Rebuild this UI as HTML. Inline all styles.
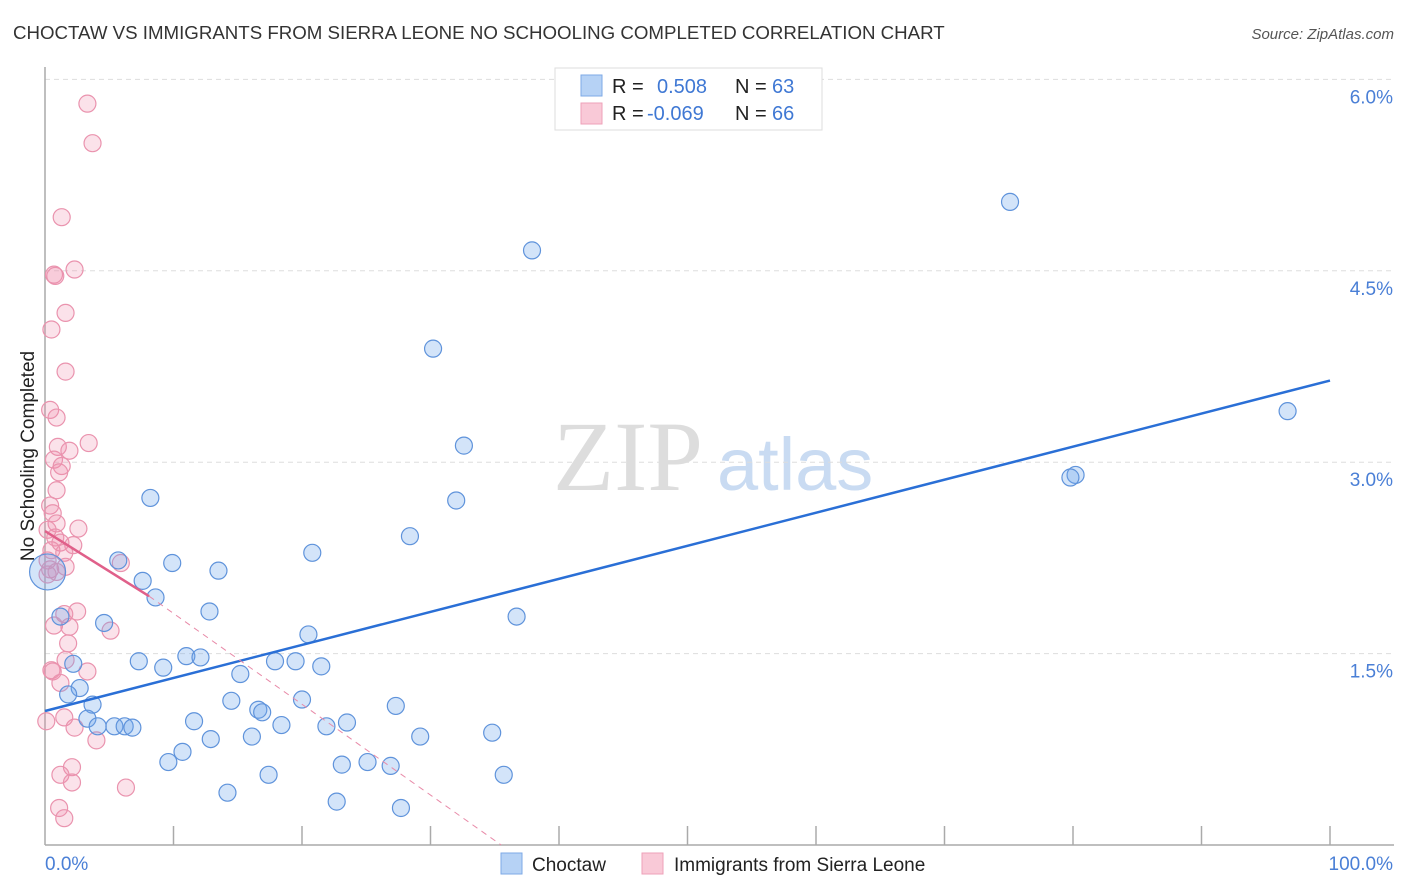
<!DOCTYPE html>
<html><head><meta charset="utf-8"><style>
body{margin:0;background:#fff;font-family:"Liberation Sans",sans-serif}
svg{display:block}
</style></head><body>
<svg id="chart" width="1406" height="892" xmlns="http://www.w3.org/2000/svg">
<text x="13" y="39" font-size="18.7" fill="#333">CHOCTAW VS IMMIGRANTS FROM SIERRA LEONE NO SCHOOLING COMPLETED CORRELATION CHART</text>
<text x="1394" y="39" font-size="15" fill="#555" font-style="italic" text-anchor="end">Source: ZipAtlas.com</text>
<g>
<text x="553" y="490" font-size="100" font-family="Liberation Serif,serif" fill="#ddd">ZIP</text>
<text x="717" y="490" font-size="74" fill="#c9dbf2">atlas</text>
</g>
<g id="grid"></g>
<g id="axes"></g>
<g id="pts"></g>
<g id="trends"></g>
<text transform="translate(34,456) rotate(-90)" font-size="19" fill="#222" text-anchor="middle">No Schooling Completed</text>
<text x="45" y="870" font-size="19" fill="#4a7fd6">0.0%</text>
<text x="1393" y="870" font-size="19" fill="#4a7fd6" text-anchor="end">100.0%</text>
<g>
<rect x="555" y="68" width="267" height="62" fill="#fff" stroke="#ddd"/>
<rect x="581" y="75" width="21" height="21" fill="#b6d2f5" stroke="#7ea9e6"/>
<rect x="581" y="103" width="21" height="21" fill="#f9c9d7" stroke="#eea1b8"/>
<text x="612" y="93" font-size="20" fill="#222">R =</text><text x="657" y="93" font-size="20" fill="#3f78d4">0.508</text>
<text x="735" y="93" font-size="20" fill="#222">N =</text><text x="772" y="93" font-size="20" fill="#3f78d4">63</text>
<text x="612" y="120" font-size="20" fill="#222">R =</text><text x="647" y="120" font-size="20" fill="#3f78d4">-0.069</text>
<text x="735" y="120" font-size="20" fill="#222">N =</text><text x="772" y="120" font-size="20" fill="#3f78d4">66</text>
</g>
<g><rect x="501" y="853" width="21" height="21" fill="#b6d2f5" stroke="#7ea9e6"/><text x="532" y="871" font-size="19" fill="#222">Choctaw</text></g>
<g><rect x="642" y="853" width="21" height="21" fill="#f9c9d7" stroke="#eea1b8"/><text x="674" y="871" font-size="19" fill="#222">Immigrants from Sierra Leone</text></g>
</svg>
<script>
const yTicks=[1.5,3.0,4.5,6.0];
const yTickLabels=["1.5%","3.0%","4.5%","6.0%"];
const blueX=[75.1,37.9,30.2,96.7,32.6,80.2,79.8,8.2,32.0,28.4,20.8,5.7,9.9,13.5,7.6,8.6,36.7,12.8,4.6,1.2,20.5,7.3,11.0,12.1,9.2,17.9,19.5,21.5,2.2,15.2,2.7,1.8,3.7,14.5,20.0,27.3,16.6,16.9,11.6,3.3,4.1,5.4,6.2,6.8,18.4,21.9,23.5,29.2,34.8,12.9,16.1,10.7,9.6,23.1,25.1,26.9,17.4,35.7,14.2,22.7,27.7];
const blueY=[5.04,4.66,3.89,3.40,3.13,2.90,2.88,2.72,2.70,2.42,2.29,2.23,2.21,2.15,2.07,1.94,1.79,1.83,1.74,1.79,1.65,1.44,1.48,1.47,1.39,1.44,1.44,1.40,1.42,1.34,1.23,1.18,1.10,1.13,1.14,1.09,1.06,1.04,0.97,0.99,0.93,0.93,0.93,0.92,0.94,0.93,0.96,0.85,0.88,0.83,0.85,0.73,0.65,0.63,0.65,0.62,0.55,0.55,0.41,0.34,0.29];
const pinkX=[3.3,3.7,1.3,2.3,0.7,0.8,1.6,0.5,1.6,0.4,0.9,3.4,1.0,1.9,0.7,1.3,1.1,0.9,0.4,0.6,2.6,0.9,0.2,0.8,1.2,2.2,0.5,1.5,0.2,1.6,5.9,0.4,0.9,0.2,2.5,1.5,0.7,1.9,5.1,1.8,1.6,0.5,3.3,0.6,1.2,0.1,1.5,2.3,4.0,2.1,1.2,2.1,6.3,1.1,1.5];
const pinkY=[5.81,5.50,4.92,4.51,4.47,4.46,4.17,4.04,3.71,3.41,3.35,3.15,3.12,3.09,3.02,2.97,2.92,2.78,2.66,2.60,2.48,2.52,2.47,2.41,2.37,2.35,2.31,2.29,2.23,2.18,2.21,2.16,2.14,2.12,1.83,1.81,1.72,1.71,1.68,1.58,1.45,1.37,1.36,1.36,1.27,0.97,1.00,0.92,0.82,0.61,0.55,0.49,0.45,0.29,0.21];
const blueTrend=[[0,1.05],[100,3.64]];
const pinkTrend=[[0,2.46],[8.1,1.95],[35.5,0]];
const NS="http://www.w3.org/2000/svg";
const X=v=>45+v*12.85, Y=v=>845-v*127.6;
function mk(tag,attrs,parent){const e=document.createElementNS(NS,tag);for(const k in attrs)e.setAttribute(k,attrs[k]);parent.appendChild(e);return e;}
const grid=document.getElementById('grid'),axes=document.getElementById('axes');
yTicks.forEach((t,i)=>{
 const l=mk('line',{x1:45,x2:1394,y1:Y(t),y2:Y(t),stroke:'#ddd','stroke-dasharray':'5,4'},grid);
 
 
 const tx=mk('text',{x:1393,y:Y(t)+24,'font-size':19,fill:'#4a7fd6','text-anchor':'end'},grid);
 tx.textContent=yTickLabels[i];
 
 
});
mk('line',{x1:45,x2:45,y1:67,y2:845,stroke:'#aaa','stroke-width':1.5},axes);
mk('line',{x1:45,x2:1394,y1:845,y2:845,stroke:'#aaa','stroke-width':1.5},axes);
for(let k=1;k<=10;k++){const t=mk('line',{x1:X(k*10),x2:X(k*10),y1:826,y2:845,stroke:'#aaa','stroke-width':1.5},axes);
 
 }
const pts=document.getElementById('pts');
pinkX.forEach((x,i)=>{const c=mk('circle',{cx:X(x),cy:Y(pinkY[i]),r:8.5,fill:'rgba(240,140,170,0.25)',stroke:'#ea93ae','stroke-width':1.2},pts);
 
 });
blueX.forEach((x,i)=>{const c=mk('circle',{cx:X(x),cy:Y(blueY[i]),r:8.5,fill:'rgba(110,165,235,0.3)',stroke:'#5f93db','stroke-width':1.2},pts);
 
 });
const big=mk('circle',{cx:X(0.2),cy:Y(2.14),r:18,fill:'rgba(110,165,235,0.3)',stroke:'#5f93db','stroke-width':1.2},pts);


const tr=document.getElementById('trends');
const bl=mk('line',{x1:X(blueTrend[0][0]),y1:Y(blueTrend[0][1]),x2:X(blueTrend[1][0]),y2:Y(blueTrend[1][1]),stroke:'#2a6fd6','stroke-width':2.5},tr);


const ps=mk('line',{x1:X(pinkTrend[0][0]),y1:Y(pinkTrend[0][1]),x2:X(pinkTrend[1][0]),y2:Y(pinkTrend[1][1]),stroke:'#e0608a','stroke-width':2.5},tr);


const pd=mk('line',{x1:X(pinkTrend[1][0]),y1:Y(pinkTrend[1][1]),x2:X(pinkTrend[2][0]),y2:Y(pinkTrend[2][1]),stroke:'#e88aa8','stroke-width':1,'stroke-dasharray':'6,5'},tr);


</script>
</body></html>
